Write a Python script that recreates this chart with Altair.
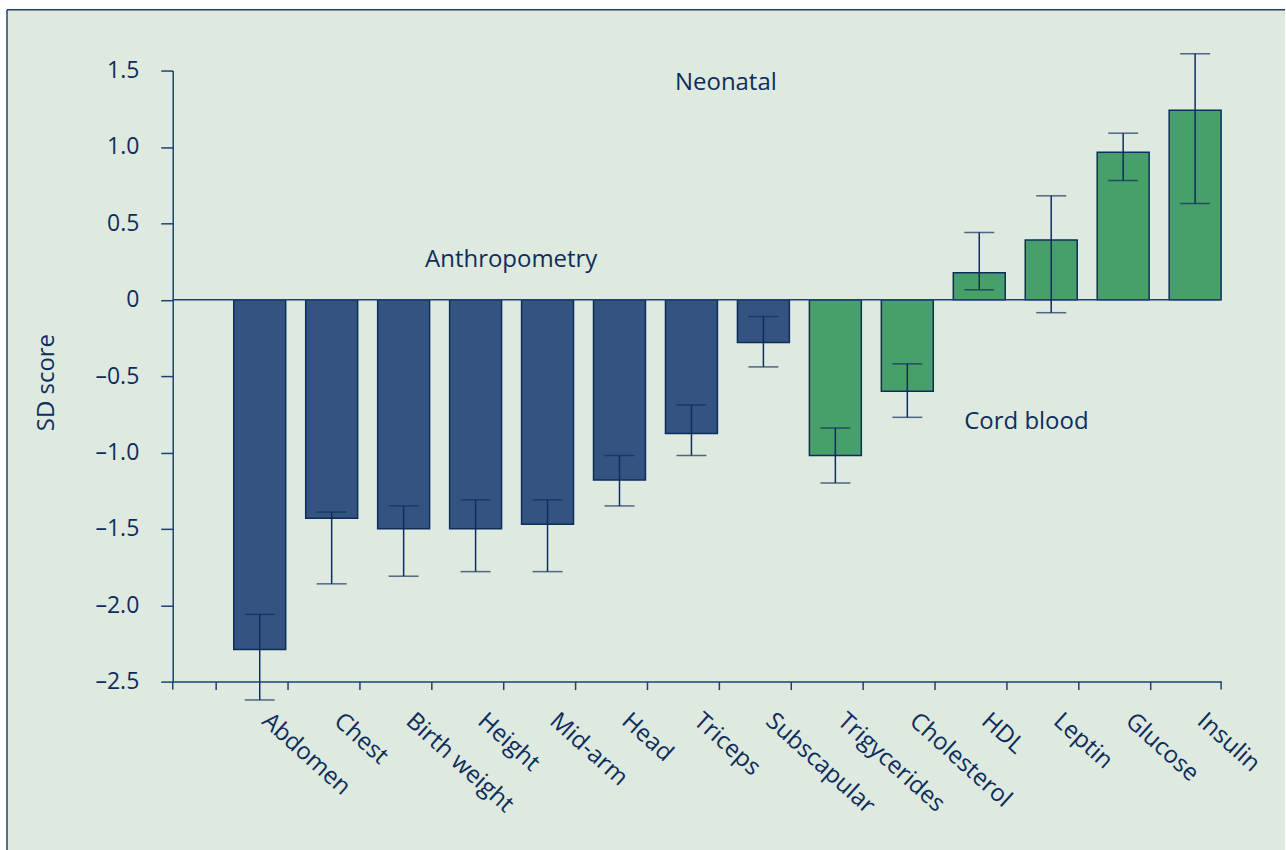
import altair as alt
import pandas as pd

categories = ["Abdomen", "Chest", "Birth weight", "Height", "Mid-arm", "Head", "Triceps",
              "Subscapular", "Trigycerides", "Cholesterol", "HDL", "Leptin", "Glucose", "Insulin"]
groups = ["Anthropometry"] * 8 + ["Cord blood"] * 6
values = [-2.29, -1.43, -1.50, -1.50, -1.47, -1.18, -0.876, -0.28, -1.02, -0.60, 0.176, 0.39, 0.965, 1.24]
err_low = [-2.62, -1.86, -1.81, -1.78, -1.78, -1.35, -1.02, -0.44, -1.20, -0.77, 0.065, -0.085, 0.78, 0.63]
err_high = [-2.06, -1.39, -1.35, -1.31, -1.31, -1.02, -0.69, -0.11, -0.84, -0.42, 0.44, 0.68, 1.09, 1.61]
y_ticks = [-2.5, -2.0, -1.5, -1.0, -0.5, 0, 0.5, 1.0, 1.5]
annotations = ["Neonatal", "Anthropometry", "Cord blood"]

df = pd.DataFrame({"category": categories, "group": groups, "value": values,
                   "low": err_low, "high": err_high})
one = pd.DataFrame({"d": [0]})

NAVY = "#0f2d5c"
LINE = "#1f416f"
BG = "#deeadf"
FONT = "Open Sans"
W, H = 1050, 612

x_enc = alt.X(
    "category:N", sort=categories,
    scale=alt.Scale(paddingInner=0.278, paddingOuter=0.424, align=1),
    axis=alt.Axis(title=None, labelAngle=42, labelAlign="left", labelBaseline="alphabetic",
                  labelFontSize=24, labelFont=FONT, labelColor=NAVY, labelPadding=33,
                  labelOffset=1,
                  tickSize=8, tickWidth=1.5, tickColor=LINE, domainColor=LINE, domainWidth=1.5,
                  bandPosition=-0.346, grid=False, zindex=1),
)
y_scale = alt.Scale(domain=[-2.5, 1.5], nice=False, zero=False)
y_axis = alt.Axis(values=y_ticks, grid=False, tickSize=12, tickWidth=1.5, tickColor=LINE,
                  domainColor=LINE, domainWidth=1.5, labelFontSize=23, labelFont=FONT,
                  labelColor=NAVY, labelPadding=22, zindex=1,
                  labelExpr="datum.value == 0 ? '0' : (datum.value < 0 ? '\u2013' : '') + format(abs(datum.value), '.1f')",
                  title="SD score", titleFontSize=24, titleFont=FONT, titleFontWeight="normal",
                  titleColor=NAVY, titleX=-119, titleY=312, titleAngle=270,
                  titleAlign="center", titleBaseline="alphabetic")

base = alt.Chart(df)
deco = alt.Chart(one)

frame = deco.mark_rect(fill=BG, stroke=None).encode(
    x=alt.value(-166), x2=alt.value(1114), y=alt.value(-61), y2=alt.value(781)
)
frame_left = deco.mark_rule(color=LINE, strokeWidth=1.5).encode(
    x=alt.value(-166), y=alt.value(-61), y2=alt.value(781)
)
frame_top = deco.mark_rule(color=LINE, strokeWidth=1.5).encode(
    x=alt.value(-166), x2=alt.value(1114), y=alt.value(-61)
)

bars = base.mark_bar(stroke=NAVY, strokeWidth=1.5).encode(
    x=x_enc,
    y=alt.Y("value:Q", scale=y_scale, axis=y_axis),
    y2=alt.datum(0),
    color=alt.Color("group:N", scale=alt.Scale(domain=["Anthropometry", "Cord blood"],
                                                range=["#345381", "#47a06a"]), legend=None),
)

zero = deco.mark_rule(color=LINE, strokeWidth=1.5).encode(y=alt.datum(0))

start_tick = deco.mark_rule(color=LINE, strokeWidth=1.5).encode(
    x=alt.value(0), y=alt.value(H), y2=alt.value(H + 8)
)
end_tick = deco.mark_rule(color=LINE, strokeWidth=1.5).encode(
    x=alt.value(W), y=alt.value(H), y2=alt.value(H + 8)
)

err = base.mark_rule(color=NAVY, strokeWidth=1.5).encode(
    x=alt.X("category:N", sort=categories), y="low:Q", y2="high:Q"
)
cap_low = base.mark_tick(color=NAVY, thickness=1.5, size=30).encode(
    x=alt.X("category:N", sort=categories), y="low:Q"
)
cap_high = base.mark_tick(color=NAVY, thickness=1.5, size=30).encode(
    x=alt.X("category:N", sort=categories), y="high:Q"
)

ann_x = [554, 339, 855]
ann_y = [12, 190, 352]
texts = [
    alt.Chart(pd.DataFrame({"label": [t]})).mark_text(
        font=FONT, fontSize=24, color=NAVY, align="center", baseline="middle", fontWeight="normal"
    ).encode(text="label:N", x=alt.value(ax), y=alt.value(ay))
    for t, ax, ay in zip(annotations, ann_x, ann_y)
]

chart = alt.layer(frame, frame_left, frame_top, bars, zero, start_tick, end_tick, err, cap_low, cap_high,
                  *texts).properties(
    width=W, height=H,
    padding={"left": 6, "top": 8, "right": 0, "bottom": 0},
).configure(background="white").configure_view(stroke=None)

chart.save("out.html", embed_options={"renderer": "svg", "actions": False})
